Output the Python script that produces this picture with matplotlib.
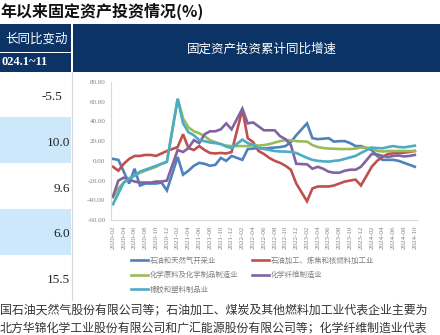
import matplotlib
matplotlib.use("Agg")
import matplotlib.pyplot as plt
from matplotlib.patches import Rectangle

plt.rcParams['font.family'] = ['Noto Sans CJK SC', 'DejaVu Sans']

W, H = 440, 335

# month positions, counted from 2020-02 (January has no data: Jan-Feb is reported together)
months = [m for m in range(57) if (m + 1) % 12 != 0]
tick_pos = list(range(0, 57, 2))
tick_labels = ['%d-%02d' % (2020 + (m + 1) // 12, (m + 1) % 12 + 1) for m in tick_pos]

oil_gas = [2, 1, -11, -23, -8, -25, -23, -23, -23, -22, -30,
           4, -14, -10, -5, -2, -3, -5, -4, 3, 0, 5,
           1, 12, 12.5, 13, 12.5, 13, 13.5, 14, 15, 19, 26,
           38, 23, 22, 22.5, 23, 19.5, 20, 20, 18, 15, 15,
           11, 5, 1, 1, 1, 0, -2, -4, -6]
refining = [-6, -10, -3, 2, 5, 5, 6, 6, 5, 7.5, 10,
            14, 27, 13, 11, 15, 11, 8, 7.5, 8, 7.5, 9,
            52, 23, 19, 10, 7, 3, 0, -2, -5, -9, -23,
            -41, -28, -26, -26, -26, -25, -23, -21, -20, -19, -25,
            -6, 0, 4, 7, 7.7, 8, 8.3, 9, 10]
chemicals = [-37, -28, -22, -18, -15, -12, -10, -8, -6, -3, -1,
             63, 43, 34, 30, 28, 25, 21, 19, 17, 15.5, 15,
             15, 15, 16, 15.5, 16, 17, 18.5, 20, 21, 21, 20,
             19.5, 16, 14, 13, 12.5, 12.3, 12, 12, 12, 12.5, 13.5,
             13, 10, 9.5, 10, 10, 10, 10, 10, 10]
fibers = [-36, -20, -17, -19, -21, -22, -22, -22, -21, -21, -20,
          11, 9, 13, 21, 18, 27, 30, 30, 32, 38, 32,
          53, 38, 39, 35, 31, 31, 31, 25, 22, 16, -3,
          -3.5, -8, -6, -8, -11, -12, -12, -10, -9, -9, -6,
          7, 6.5, 5, 4, 5, 5.5, 4.5, 5, 6]
rubber = [-44, -33, -22, -18, -15, -11, -9, -7, -5, -3, -1,
          63, 38, 29, 26, 21, 20, 18.6, 18, 17, 14.5, 13,
          21.5, 18, 16, 13, 12, 11, 10, 9.5, 9.4, 9, 8,
          3, 1, 0, -0.5, -0.8, 0, 0.5, 2, 3.5, 5, 8,
          13.5, 13, 12.7, 14, 15, 14, 13.7, 14.5, 15.4]

series = [
    ('石油和天然气开采业', oil_gas, '#4f81bd'),
    ('石油加工、炼焦和核燃料加工业', refining, '#c0504d'),
    ('化学原料及化学制品制造业', chemicals, '#9bbb59'),
    ('化学纤维制造业', fibers, '#8064a2'),
    ('橡胶和塑料制品业', rubber, '#4bacc6'),
]

row_values = ['-5.5', '10.0', '9.6', '6.0', '15.5']

navy = '#0c3366'
pale = '#cce8fa'

fig = plt.figure(figsize=(W / 100, H / 100), dpi=100)


def px(x, y):
    return x / W, 1 - y / H


def box(x0, y0, x1, y1, color, ec='none'):
    fig.patches.append(Rectangle(px(x0, y1), (x1 - x0) / W, (y1 - y0) / H,
                                 transform=fig.transFigure, fc=color, ec=ec, lw=0.6, zorder=0))


# title
fig.text(*px(0, 11), '年以来固定资产投资情况(%)', fontsize=11.5, fontweight='bold',
         ha='left', va='center', color='#111111')

# headers
box(0, 24, 71, 52, navy)
box(0, 53, 71, 72, navy)
box(73, 24, 440, 72, navy)
fig.text(*px(68, 39), '长同比变动', fontsize=9, color='white', ha='right', va='center')
fig.text(*px(1, 62), '024.1~11', fontsize=9, color='white', ha='left', va='center',
         family='Liberation Serif', fontweight='bold')
fig.text(*px(262, 49), '固定资产投资累计同比增速', fontsize=9, color='white',
         ha='center', va='center')

# left column rows
row_tops = [73, 117, 163, 209, 255, 300]
text_y = [97, 143, 189, 234, 280]
text_x = [62, 70, 70, 70, 70]
for i, v in enumerate(row_values):
    box(0, row_tops[i], 71, row_tops[i + 1], pale if i % 2 == 1 else 'white')
    fig.text(*px(text_x[i], text_y[i]), v, fontsize=9.5, family='Liberation Serif',
             ha='right', va='center', color='#222222')
fig.lines.append(plt.Line2D([72 / W, 72 / W], [1 - 72 / H, 1 - 300 / H],
                            transform=fig.transFigure, color='#d8d8d8', lw=0.8))

# chart
ax = fig.add_axes([111 / W, 1 - 220 / H, 306 / W, 138 / H])
handles = {}
for name, vals, color in series:
    line, = ax.plot(months, vals, color=color, lw=1.9, label=name, solid_joinstyle='miter')
    handles[name] = line

ax.set_xlim(-0.37, 56.4)
ax.set_ylim(-60, 80)
ax.set_yticks(range(-60, 81, 20))
ax.set_yticklabels(['%.2f' % t for t in range(-60, 81, 20)], family='Liberation Serif',
                   fontsize=5, color='#7f7f7f')
ax.set_xticks(tick_pos)
ax.set_xticklabels(tick_labels, rotation=90, family='Liberation Serif', fontsize=5,
                   color='#7f7f7f')
ax.tick_params(length=0, pad=4)
for s in ['top', 'right']:
    ax.spines[s].set_visible(False)
for s in ['left', 'bottom']:
    ax.spines[s].set_color('#d9d9d9')
    ax.spines[s].set_linewidth(0.8)

order = [0, 2, 4, 1, 3]
leg = fig.legend([handles[series[i][0]] for i in order], [series[i][0] for i in order],
                 ncol=2, loc='upper left', bbox_to_anchor=px(131, 257), frameon=False,
                 fontsize=5.3, handlelength=2.3, handletextpad=0.3, labelspacing=0.85,
                 columnspacing=1.8, borderpad=0, borderaxespad=0)
for t in leg.get_texts():
    t.set_color('#7f7f7f')

# footnote
fig.text(*px(0, 311), '国石油天然气股份有限公司等；石油加工、煤炭及其他燃料加工业代表企业主要为',
         fontsize=8.6, color='#333333', ha='left', va='center')
fig.text(*px(0, 329), '北方华锦化学工业股份有限公司和广汇能源股份有限公司等；化学纤维制造业代表',
         fontsize=8.6, color='#333333', ha='left', va='center')

fig.savefig('out.png', dpi=100)
